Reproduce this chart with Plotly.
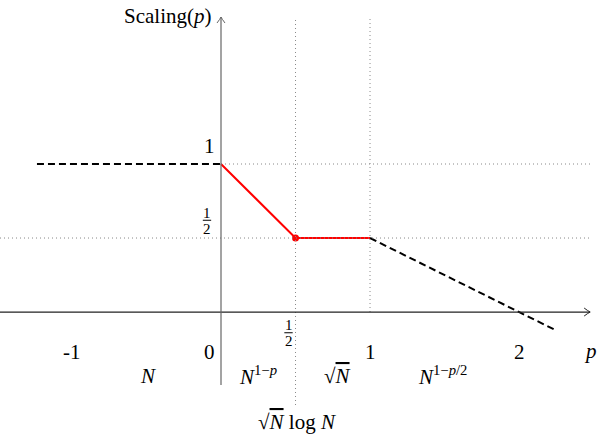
import plotly.graph_objects as go

# ---- data ----
red_p = [0, 0.5, 1]
red_s = [1, 0.5, 0.5]
left_p = [-1.235, 0]
left_s = [1, 1]
right_p = [1, 2.235]
right_s = [0.5, -0.1175]
dot_p = [0.5]
dot_s = [0.5]

xtick_vals = [-1, 0, 1, 2]
xtick_text = ["-1", "0", "1", "2"]
ytick_vals = [1]
ytick_text = ["1"]

region_x = [-0.49, 0.248, 0.78, 1.483]
region_text = ["<i>N</i>", "<i>N</i><sup>1−<i>p</i></sup>",
               "√<span style='text-decoration:overline'><i>N</i></span>",
               "<i>N</i><sup>1−<i>p</i>/2</sup>"]

XMIN, XMAX = -1.483, 2.570
YMIN, YMAX = -0.878, 2.108
PX = 1 / 149.0   # data units per pixel (x)
PY = 1 / 148.0   # data units per pixel (y)
FONT = "Liberation Serif"

fig = go.Figure()

# dotted guide lines
dot_style = dict(color="#888888", width=1, dash="1px,3px")
fig.add_shape(type="line", x0=0.5, x1=0.5, y0=-0.628, y1=1.993, line=dot_style)
fig.add_shape(type="line", x0=1, x1=1, y0=0, y1=1.993, line=dot_style)
fig.add_shape(type="line", x0=0, x1=2.477, y0=1, y1=1, line=dot_style)
fig.add_shape(type="line", x0=XMIN, x1=2.477, y0=0.5, y1=0.5, line=dot_style)

# axes
XTIP = 2.477
YTIP = 1.993
fig.add_shape(type="line", x0=XMIN, x1=XTIP, y0=0, y1=0,
              line=dict(color="#222222", width=1.2))
fig.add_shape(type="line", x0=0, x1=0, y0=-0.493, y1=YTIP,
              line=dict(color="#666666", width=1.2))
fig.add_shape(type="path",
              path=f"M {XTIP-6*PX},{4*PY} Q {XTIP-2*PX},{1*PY} {XTIP},0 Q {XTIP-2*PX},{-1*PY} {XTIP-6*PX},{-4*PY}",
              line=dict(color="#222222", width=1))
fig.add_shape(type="path",
              path=f"M {-4*PX},{YTIP-6*PY} Q {-1*PX},{YTIP-2*PY} 0,{YTIP} Q {1*PX},{YTIP-2*PY} {4*PX},{YTIP-6*PY}",
              line=dict(color="#666666", width=1))

# dashed extensions
fig.add_trace(go.Scatter(x=left_p, y=left_s, mode="lines",
                         line=dict(color="black", width=2, dash="7px,4px"), hoverinfo="skip"))
fig.add_trace(go.Scatter(x=right_p, y=right_s, mode="lines",
                         line=dict(color="black", width=2, dash="7px,4px"), hoverinfo="skip"))
# red curve
fig.add_trace(go.Scatter(x=red_p, y=red_s, mode="lines",
                         line=dict(color="#ff0000", width=2), hoverinfo="skip"))
fig.add_trace(go.Scatter(x=dot_p, y=dot_s, mode="markers",
                         marker=dict(color="#ff0000", size=7), hoverinfo="skip"))

tick_font = dict(family=FONT, size=21, color="black")
for v, t in zip(xtick_vals, xtick_text):
    xx = v if v != 0 else -0.074
    fig.add_annotation(x=xx, y=-0.27, text=t, showarrow=False, font=tick_font,
                       xanchor="center", yanchor="middle")
for v, t in zip(ytick_vals, ytick_text):
    fig.add_annotation(x=-0.08, y=v + 0.12, text=t, showarrow=False, font=tick_font,
                       xanchor="center", yanchor="middle")

# fractions 1/2
def frac(xc, yc):
    f = dict(family=FONT, size=15, color="black")
    fig.add_annotation(x=xc, y=yc + 0.05, text="1", showarrow=False, font=f,
                       xanchor="center", yanchor="middle")
    fig.add_annotation(x=xc, y=yc - 0.057, text="2", showarrow=False, font=f,
                       xanchor="center", yanchor="middle")
    fig.add_shape(type="line", x0=xc - 0.028, x1=xc + 0.028, y0=yc, y1=yc,
                  line=dict(color="black", width=1))

frac(-0.094, 0.62)
frac(0.453, -0.14)

fig.add_annotation(x=2.477, y=-0.26, text="<i>p</i>", showarrow=False, font=tick_font,
                   xanchor="center", yanchor="middle")
fig.add_annotation(x=-0.054, y=2.0, text="Scaling(<i>p</i>)", showarrow=False,
                   font=dict(family=FONT, size=21, color="black"),
                   xanchor="right", yanchor="middle")

for xx, t in zip(region_x, region_text):
    fig.add_annotation(x=xx, y=-0.432, text=t, showarrow=False, font=tick_font,
                       xanchor="center", yanchor="middle")
fig.add_annotation(x=0.51, y=-0.743,
                   text="√<span style='text-decoration:overline'><i>N</i></span> log <i>N</i>",
                   showarrow=False, font=tick_font, xanchor="center", yanchor="middle")

fig.update_layout(
    width=604, height=442, margin=dict(l=0, r=0, t=0, b=0),
    paper_bgcolor="white", plot_bgcolor="white", showlegend=False,
    xaxis=dict(range=[XMIN, XMAX], visible=False, fixedrange=True),
    yaxis=dict(range=[YMIN, YMAX], visible=False, fixedrange=True),
)
fig.write_html("out.html")
